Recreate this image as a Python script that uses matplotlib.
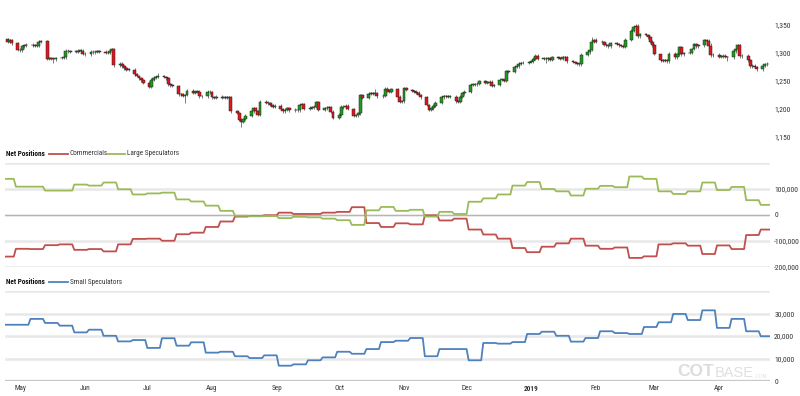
import matplotlib
matplotlib.use("Agg")
import matplotlib.pyplot as plt
from matplotlib.lines import Line2D
import numpy as np
import pandas as pd

plt.rcParams['font.family'] = ['Roboto Condensed', 'Liberation Sans Narrow', 'Liberation Sans',
                               'DejaVu Sans']

# --- price candles (daily, business days from 2018-04-25) ---
first_open = 1325
closes = [
    1320, 1323, 1317,
    1306, 1305, 1312, 1314, 1315,
    1314, 1313, 1313, 1320, 1321,
    1290, 1291, 1290, 1289, 1291,
    1291, 1292, 1304, 1303, 1302,
    1302, 1304, 1304, 1299, 1298,
    1302, 1301, 1302, 1303, 1302,
    1300, 1300, 1303, 1307, 1278,
    1281, 1276, 1273, 1270, 1270,
    1262, 1259, 1255, 1251, 1247,
    1240, 1252, 1256, 1257, 1259,
    1257, 1255, 1244, 1242, 1241,
    1226, 1226, 1224, 1225, 1233,
    1229, 1231, 1231, 1223, 1223,
    1231, 1230, 1221, 1220, 1222,
    1220, 1221, 1220, 1221, 1196,
    1193, 1181, 1177, 1182, 1188,
    1196, 1201, 1196, 1190, 1213,
    1211, 1210, 1207, 1204, 1206,
    1200, 1196, 1199, 1201, 1198,
    1199, 1198, 1207, 1209, 1200,
    1202, 1203, 1204, 1212, 1199,
    1201, 1202, 1203, 1195, 1184,
    1190, 1204, 1203, 1206, 1200,
    1188, 1189, 1192, 1225, 1220,
    1227, 1228, 1227, 1228, 1223,
    1224, 1236, 1233, 1231, 1235,
    1222, 1213, 1214, 1237, 1234,
    1232, 1231, 1229, 1225, 1221,
    1207, 1199, 1201, 1206, 1211,
    1221, 1223, 1223, 1222, 1222,
    1214, 1213, 1222, 1228, 1231,
    1243, 1243, 1244, 1245, 1250,
    1247, 1247, 1249, 1241, 1243,
    1252, 1252, 1250, 1268, 1266,
    1275, 1276, 1281, 1282, 1283,
    1284, 1285, 1290, 1295, 1290,
    1290, 1289, 1291, 1288, 1292,
    1291, 1290, 1293, 1292, 1285,
    1284, 1282, 1281, 1280, 1297,
    1301, 1306, 1320, 1323, 1320,
    1319, 1315, 1314, 1312, 1318,
    1316, 1314, 1313, 1311, 1324,
    1340, 1346, 1349, 1330, 1333,
    1332, 1328, 1320, 1314, 1299,
    1287, 1286, 1287, 1285, 1299,
    1292, 1298, 1310, 1298, 1300,
    1300, 1307, 1316, 1312, 1314,
    1323, 1322, 1313, 1296, 1297,
    1293, 1294, 1295, 1293, 1292,
    1303, 1308, 1314, 1294, 1295,
    1287, 1276, 1277, 1275, 1271,
    1277, 1280, 1281,
]
trade_days = pd.bdate_range('2018-04-25', periods=len(closes))
# notable wick extremes
high_marks = {'2018-07-06': 1264, '2018-10-18': 1235, '2019-01-30': 1329, '2019-02-20': 1351,
              '2019-03-28': 1318, '2019-03-04': 1295, '2019-02-01': 1327}
low_marks = {'2018-08-15': 1167, '2018-07-19': 1211, '2018-05-17': 1283, '2019-01-08': 1283,
             '2019-04-05': 1285, '2018-09-04': 1193}

# --- weekly net positions (week starting Sunday) ---
week_starts = pd.date_range('2018-04-22', periods=53, freq='7D')
commercials = [-160, -130, -131, -116, -113, -134, -131, -140, -113, -92, -91, -99, -74,
               -68, -46, -25, -6, -4, -1, 9, 4, 4, 9, 12, 30, -31, -46, -32, -36, -1,
               -21, -14, -56, -75, -91, -127, -143, -122, -109, -91, -118, -130, -125,
               -165, -159, -113, -109, -118, -150, -117, -131, -77, -56]
large_specs = [139, 109, 109, 94, 94, 117, 113, 125, 99, 79, 83, 86, 60, 52, 36, 16, -3,
               -5, -4, -12, -7, -9, -14, -20, -38, 18, 31, 16, 20, -6, 12, 4, 51, 64, 79,
               113, 127, 100, 91, 75, 101, 112, 107, 148, 139, 91, 81, 91, 125, 96, 108,
               57, 39]
small_specs = [25.0, 25.0, 27.6, 25.8, 24.6, 21.6, 22.8, 20.1, 17.6, 18.2, 14.7, 19.0,
               15.7, 17.2, 12.6, 13.0, 11.0, 10.2, 11.4, 6.8, 7.4, 9.2, 10.5, 13.0, 12.1,
               14.2, 17.3, 17.9, 19.1, 11.0, 14.2, 14.2, 9.2, 16.9, 16.6, 17.3, 20.9,
               21.9, 20.1, 17.5, 19.1, 22.1, 21.3, 20.9, 24.0, 26.1, 29.8, 27.1, 31.4,
               23.6, 27.6, 22.1, 19.9]

price_ticks = [1150, 1200, 1250, 1300, 1350]
net_ticks = [-200000, -100000, 0, 100000, 200000]
small_ticks = [0, 10000, 20000, 30000, 40000]
month_starts = pd.date_range('2018-05-01', '2019-04-01', freq='MS')
month_labels = ['May', 'Jun', 'Jul', 'Aug', 'Sep', 'Oct', 'Nov', 'Dec', '2019',
                'Feb', 'Mar', 'Apr']

x_left = pd.Timestamp('2018-04-23 19:00')
x_right = pd.Timestamp('2019-04-25 10:00')

RED = '#c0504d'
GREEN = '#9bbb59'
BLUE = '#4f81bd'
GRID = '#e8e8e8'
TXT = '#333333'
FS = 5.2

W, H = 800, 396
fig = plt.figure(figsize=(W / 100, H / 100), dpi=100)


def axes_px(y_top, y_bot, x0=5, x1=770):
    return fig.add_axes([x0 / W, 1 - y_bot / H, (x1 - x0) / W, (y_bot - y_top) / H])


def style_axis(ax, ticks, labels_shown):
    for s in ax.spines.values():
        s.set_visible(False)
    ax.set_xlim(x_left, x_right)
    ax.yaxis.tick_right()
    ax.set_yticks(ticks)
    ax.set_yticklabels([f"{t:,.0f}" if t in labels_shown else '' for t in ticks])
    ax.tick_params(axis='y', length=0, pad=3, labelsize=FS + 0.3, labelcolor=TXT)
    ax.tick_params(axis='x', length=0, labelbottom=False)


def step_xy(values, scale):
    xs, ys = [], []
    for i, v in enumerate(values):
        start = week_starts[i]
        if i + 1 < len(values):
            end = week_starts[i + 1] - pd.Timedelta(days=1)
        else:
            end = x_right
        xs += [start, end]
        ys += [v * scale, v * scale]
    return xs, ys


# ---------------- price panel ----------------
ax1 = axes_px(0, 145)
opens = [first_open] + closes[:-1]
highs, lows = [], []
for d, o, c in zip(trade_days, opens, closes):
    key = d.strftime('%Y-%m-%d')
    highs.append(high_marks.get(key, max(o, c) + 2.5))
    lows.append(low_marks.get(key, min(o, c) - 2.5))
o_arr, c_arr = np.array(opens), np.array(closes)
up = c_arr >= o_arr
ax1.vlines(trade_days, lows, highs, color='#666666', lw=0.6, zorder=1)
bodies = np.maximum(np.abs(c_arr - o_arr), 0.8)
ax1.bar(trade_days, bodies, bottom=np.minimum(o_arr, c_arr), width=1.4,
        color=np.where(up, '#1f9a1f', '#e3161b'), edgecolor='#222222', lw=0.35, zorder=2)
ax1.set_ylim(1135.7, 1394.6)
style_axis(ax1, price_ticks, price_ticks)

# ---------------- net positions panel ----------------
ax2 = axes_px(163, 267)
for t in net_ticks:
    ax2.axhline(t, color=GRID, lw=1.8, zorder=0)
ax2.axhline(0, color='#b5b5b5', lw=0.8, zorder=1)
xs, ys = step_xy(commercials, 1000)
ax2.plot(xs, ys, color=RED, lw=1.3, zorder=3)
xs, ys = step_xy(large_specs, 1000)
ax2.plot(xs, ys, color=GREEN, lw=1.3, zorder=3)
ax2.set_ylim(-200000, 200000)
style_axis(ax2, net_ticks, [-200000, -100000, 0, 100000])

# ---------------- small speculators panel ----------------
ax3 = axes_px(291, 381)
for t in small_ticks[1:]:
    ax3.axhline(t, color=GRID, lw=1.8, zorder=0)
ax3.axhline(0, color='#c8c8c8', lw=1.6, zorder=1)
xs, ys = step_xy(small_specs, 1000)
ax3.plot(xs, ys, color=BLUE, lw=1.3, zorder=3)
ax3.set_ylim(0, 40000)
style_axis(ax3, small_ticks, [0, 10000, 20000, 30000])
ax3.set_xticks(month_starts)
ax3.set_xticklabels(month_labels)
ax3.tick_params(axis='x', labelbottom=True, pad=3, labelsize=FS, labelcolor=TXT)
for lbl in ax3.get_xticklabels():
    if lbl.get_text() == '2019':
        lbl.set_fontweight('bold')


# ---------------- legends ----------------
def fig_text(x, y, s, **kw):
    opts = dict(va='center', ha='left', fontsize=FS, color=TXT)
    opts.update(kw)
    fig.text(x / W, 1 - y / H, s, **opts)


def fig_line(x0, x1, y, color):
    fig.add_artist(Line2D([x0 / W, x1 / W], [1 - y / H, 1 - y / H], color=color, lw=1.3))


fig_text(6, 154, 'Net Positions', fontweight='bold', color='#111111')
fig_line(49, 68, 154, RED)
fig_text(70, 154, 'Commercials')
fig_line(108, 125, 154, GREEN)
fig_text(127, 154, 'Large Speculators')

fig_text(6, 282, 'Net Positions', fontweight='bold', color='#111111')
fig_line(49, 68, 282, BLUE)
fig_text(70, 282, 'Small Speculators')

# watermark
wm_font = ['Liberation Sans', 'DejaVu Sans']
fig_text(677, 372, 'COT', fontsize=12.5, fontweight='bold', color='#dcdcdc', family=wm_font)
fig_text(715, 373, 'BASE', fontsize=10.5, color='#e0e0e0', family=wm_font)
fig_text(755, 377, '.COM', fontsize=3.5, color='#e0e0e0', family=wm_font)

fig.savefig('out.png', dpi=100)
